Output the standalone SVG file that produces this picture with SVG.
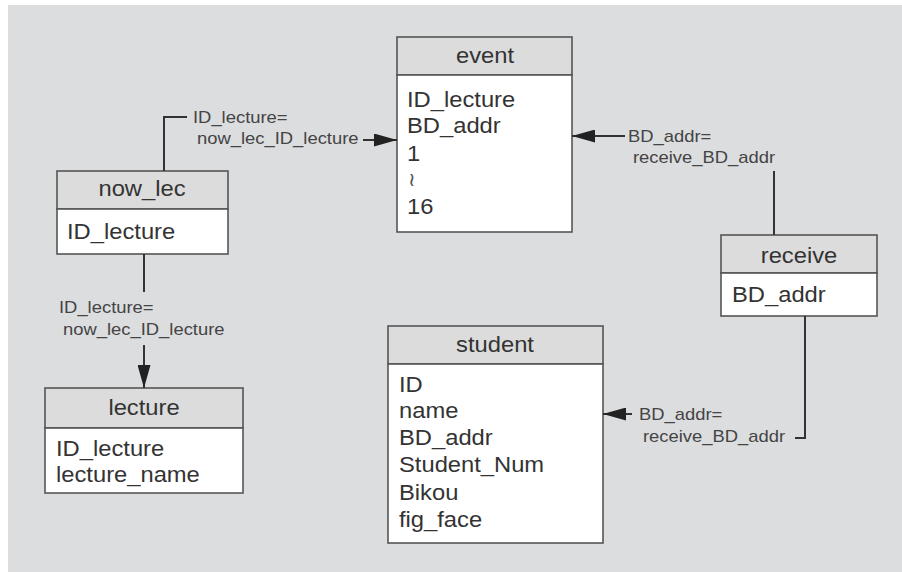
<svg xmlns="http://www.w3.org/2000/svg" width="902" height="572" viewBox="0 0 902 572">
<defs>
<style>
.bg{fill:#dcdddf}
.hd{fill:#dcdcdc;stroke:#555;stroke-width:1.6}
.bd{fill:#ffffff;stroke:#555;stroke-width:1.6}
.t{font-family:"Liberation Sans",Arial,sans-serif;font-size:22px;fill:#333}
.tc{font-family:"Liberation Sans",Arial,sans-serif;font-size:22px;fill:#333;text-anchor:middle}
.lb{font-family:"Liberation Sans",Arial,sans-serif;font-size:16px;fill:#444}
.ln{fill:none;stroke:#333;stroke-width:2}
</style>
<marker id="ah" markerUnits="userSpaceOnUse" markerWidth="23" markerHeight="13" refX="23" refY="6.5" orient="auto">
<path d="M0,0 L23,6.5 L0,13 z" fill="#222"/>
</marker>
</defs>
<rect x="0" y="0" width="902" height="572" fill="#ffffff"/>
<rect class="bg" x="8" y="5" width="894" height="567"/>

<g id="event">
<rect class="hd" x="397" y="37" width="175" height="38"/>
<rect class="bd" x="397" y="75" width="175" height="157"/>
<text class="tc" transform="translate(485,63) scale(1.08,1)">event</text>
<text class="t" transform="translate(407,107) scale(1.08,1)">ID_lecture</text>
<text class="t" transform="translate(407,133) scale(1.08,1)">BD_addr</text>
<text class="t" transform="translate(407,161) scale(1.08,1)">1</text>
<text class="t" transform="translate(408,186) scale(1.08,1)" style="font-size:19px;fill:#555">≀</text>
<text class="t" transform="translate(407,214) scale(1.08,1)">16</text>
</g>

<g id="now_lec">
<rect class="hd" x="57" y="171" width="171" height="38"/>
<rect class="bd" x="57" y="209" width="171" height="45"/>
<text class="tc" transform="translate(142,196) scale(1.08,1)">now_lec</text>
<text class="t" transform="translate(67,239) scale(1.08,1)">ID_lecture</text>
</g>

<g id="lecture">
<rect class="hd" x="45" y="388" width="198" height="40"/>
<rect class="bd" x="45" y="428" width="198" height="65"/>
<text class="tc" transform="translate(144,415) scale(1.08,1)">lecture</text>
<text class="t" transform="translate(56,456) scale(1.08,1)">ID_lecture</text>
<text class="t" transform="translate(56,482) scale(1.08,1)">lecture_name</text>
</g>

<g id="receive">
<rect class="hd" x="721" y="235" width="156" height="38"/>
<rect class="bd" x="721" y="273" width="156" height="43"/>
<text class="tc" transform="translate(799,263) scale(1.08,1)">receive</text>
<text class="t" transform="translate(732,302) scale(1.08,1)">BD_addr</text>
</g>

<g id="student">
<rect class="hd" x="388" y="326" width="215" height="38"/>
<rect class="bd" x="388" y="364" width="215" height="179"/>
<text class="tc" transform="translate(495,352) scale(1.08,1)">student</text>
<text class="t" transform="translate(399,392) scale(1.08,1)">ID</text>
<text class="t" transform="translate(399,418) scale(1.08,1)">name</text>
<text class="t" transform="translate(399,445) scale(1.08,1)">BD_addr</text>
<text class="t" transform="translate(399,472) scale(1.08,1)">Student_Num</text>
<text class="t" transform="translate(399,500) scale(1.08,1)">Bikou</text>
<text class="t" transform="translate(399,527) scale(1.08,1)">fig_face</text>
</g>

<g id="connectors">
<path class="ln" d="M164,171 V117 H187"/>
<path class="ln" d="M363,140 H397" marker-end="url(#ah)"/>
<text class="lb" transform="translate(193,123) scale(1.15,1)">ID_lecture=</text>
<text class="lb" transform="translate(197,144) scale(1.15,1)">now_lec_ID_lecture</text>

<path class="ln" d="M144,254 V292"/>
<path class="ln" d="M144,345 V388" marker-end="url(#ah)"/>
<text class="lb" transform="translate(59,313) scale(1.15,1)">ID_lecture=</text>
<text class="lb" transform="translate(63,335) scale(1.15,1)">now_lec_ID_lecture</text>

<path class="ln" d="M774,235 V171"/>
<path class="ln" d="M625,136 H572" marker-end="url(#ah)"/>
<text class="lb" transform="translate(628,142) scale(1.15,1)">BD_addr=</text>
<text class="lb" transform="translate(633,163) scale(1.15,1)">receive_BD_addr</text>

<path class="ln" d="M805,316 V438 H795"/>
<path class="ln" d="M632,414 H603" marker-end="url(#ah)"/>
<text class="lb" transform="translate(639,420) scale(1.15,1)">BD_addr=</text>
<text class="lb" transform="translate(643,442) scale(1.15,1)">receive_BD_addr</text>
</g>
</svg>
